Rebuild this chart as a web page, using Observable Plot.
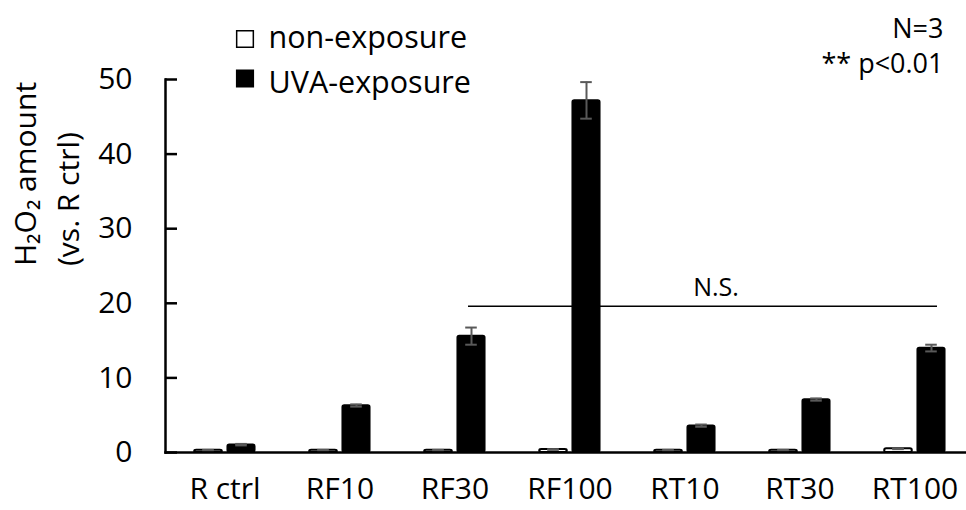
<!DOCTYPE html>
<html>
<head>
<meta charset="utf-8">
<script src="https://cdn.jsdelivr.net/npm/d3@7"></script>
<script src="https://cdn.jsdelivr.net/npm/@observablehq/plot@0.6"></script>
<style>
  html, body { margin: 0; padding: 0; background: #fff; }
  #chart svg { display: block; }
</style>
</head>
<body>
<div id="chart"></div>
<script>
const categories = ["R ctrl", "RF10", "RF30", "RF100", "RT10", "RT30", "RT100"];
const nonExposure = [0.3, 0.3, 0.3, 0.4, 0.3, 0.3, 0.5];
const nonExposureErr = [0.05, 0.05, 0.05, 0.05, 0.05, 0.05, 0.05];
const uvaExposure = [1.05, 6.3, 15.6, 47.2, 3.6, 7.1, 14.0];
const uvaExposureErr = [0.1, 0.15, 1.15, 2.45, 0.15, 0.15, 0.45];
const yTicks = [0, 10, 20, 30, 40, 50];
const nsLevel = 19.6;
const legendLabels = ["non-exposure", "UVA-exposure"];
const noteLines = ["N=3", "** p<0.01"];
const yTitleLines = ["H\u2082O\u2082 amount", "(vs. R ctrl)"];

const non = categories.map((c, i) => ({cat: c, v: nonExposure[i], e: nonExposureErr[i]}));
const uva = categories.map((c, i) => ({cat: c, v: uvaExposure[i], e: uvaExposureErr[i]}));

const W = 966, H = 510;
const mL = 165, mT = 79, mB = 58;
const xEnd = 973;
const band = (xEnd - mL) / categories.length;
const barW = 28, gap = 5;
const off = (barW + gap) / 2;
const outer = band / 2 - gap / 2 - barW;
const inner = band / 2 + gap / 2;
const cap = 12;
const capInset = (band - cap) / 2;
const font = "'Open Sans', 'Noto Sans', sans-serif";

const chart = Plot.plot({
  width: W,
  height: H,
  marginLeft: mL,
  marginRight: 0,
  marginTop: mT,
  marginBottom: mB,
  style: {fontFamily: font, fontSize: "30px", color: "#000", background: "#fff"},
  x: {type: "band", domain: categories, range: [mL, xEnd], padding: 0, label: null},
  y: {domain: [0, 50], label: null},
  marks: [
    Plot.barY(non, {x: "cat", y: "v", insetLeft: outer, insetRight: inner, fill: "#fff", stroke: "#000", strokeWidth: 2, rx: 2}),
    Plot.barY(uva, {x: "cat", y: "v", insetLeft: inner, insetRight: outer, fill: "#000", stroke: "#000", strokeWidth: 1.5, rx: 2}),
    Plot.ruleX(non, {x: "cat", y1: d => d.v - d.e, y2: d => d.v + d.e, dx: -off, stroke: "#595959", strokeWidth: 2}),
    Plot.ruleX(uva, {x: "cat", y1: d => d.v - d.e, y2: d => d.v + d.e, dx: off, stroke: "#595959", strokeWidth: 2}),
    Plot.tickY(non, {x: "cat", y: d => d.v + d.e, dx: -off, insetLeft: capInset, insetRight: capInset, stroke: "#595959", strokeWidth: 2}),
    Plot.tickY(non, {x: "cat", y: d => d.v - d.e, dx: -off, insetLeft: capInset, insetRight: capInset, stroke: "#595959", strokeWidth: 2}),
    Plot.tickY(uva, {x: "cat", y: d => d.v + d.e, dx: off, insetLeft: capInset, insetRight: capInset, stroke: "#595959", strokeWidth: 2}),
    Plot.tickY(uva, {x: "cat", y: d => d.v - d.e, dx: off, insetLeft: capInset, insetRight: capInset, stroke: "#595959", strokeWidth: 2}),
    Plot.ruleY([nsLevel], {y: d => d, x1: () => "RF30", x2: () => "RT100", insetLeft: 71, insetRight: 35, stroke: "#000", strokeWidth: 1.5}),
    Plot.text(["N.S."], {x: () => "RT10", y: () => nsLevel, text: d => d, dx: 31, dy: -10, lineAnchor: "bottom", fontSize: 25, fill: "#000"}),
    Plot.frame({anchor: "left", stroke: "#000", strokeWidth: 2.5}),
    Plot.frame({anchor: "bottom", stroke: "#000", strokeWidth: 2.5}),
    Plot.tickY(yTicks, {y: d => d, insetRight: W - mL - 12, stroke: "#000", strokeWidth: 2.5}),
    Plot.axisY({ticks: yTicks, tickSize: 0, tickPadding: 33, fontSize: 30, tickFormat: d => d}),
    Plot.axisX({tickSize: 0, tickPadding: 25, fontSize: 30}),
    Plot.text([yTitleLines[0]], {frameAnchor: "left", text: d => d, rotate: -90, dx: -139, fontSize: 30, fill: "#000"}),
    Plot.text([yTitleLines[1]], {frameAnchor: "left", text: d => d, rotate: -90, dx: -96, fontSize: 30, fill: "#000"}),
    Plot.dot([0], {frameAnchor: "top-left", dx: 79.5, dy: -40.5, symbol: "square", r: 9.4, fill: "#fff", stroke: "#000", strokeWidth: 1.5}),
    Plot.dot([0], {frameAnchor: "top-left", dx: 79.5, dy: -1, symbol: "square", r: 9.4, fill: "#000", stroke: "#000", strokeWidth: 1.5}),
    Plot.text([legendLabels[0]], {frameAnchor: "top-left", text: d => d, dx: 103, dy: -32, textAnchor: "start", lineAnchor: "bottom", fontSize: 30.5, fill: "#000"}),
    Plot.text([legendLabels[1]], {frameAnchor: "top-left", text: d => d, dx: 103, dy: 13, textAnchor: "start", lineAnchor: "bottom", fontSize: 30.5, fill: "#000"}),
    Plot.text([noteLines[0]], {frameAnchor: "top-right", text: d => d, dx: -23, dy: -42, textAnchor: "end", lineAnchor: "bottom", fontSize: 27, fill: "#000"}),
    Plot.text([noteLines[1]], {frameAnchor: "top-right", text: d => d, dx: -23, dy: -7, textAnchor: "end", lineAnchor: "bottom", fontSize: 27, fill: "#000"})
  ]
});
document.getElementById("chart").appendChild(chart);
</script>
</body>
</html>
